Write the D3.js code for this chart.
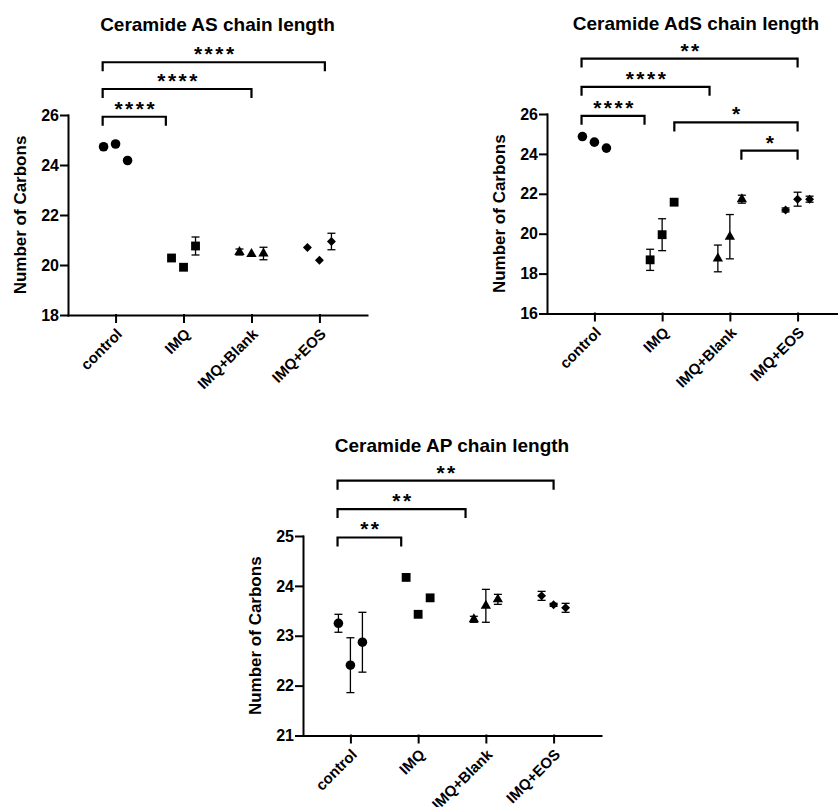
<!DOCTYPE html>
<html>
<head>
<meta charset="utf-8">
<script src="https://cdn.jsdelivr.net/npm/d3@7"></script>
<style>
  body { margin: 0; background: #fff; }
  text { font-family: "Liberation Sans", Arial, sans-serif; font-weight: bold; fill: #000; }
</style>
</head>
<body>
<script>
// Group names on the x axis
const categories = ["control", "IMQ", "IMQ+Blank", "IMQ+EOS"];
const shapes = ["circle", "square", "triangle", "diamond"];

// Ceramide AS: three sample means per group and their SD
const asMeans = [[24.73, 24.84, 24.18], [20.28, 19.91, 20.76], [20.52, 20.44, 20.46], [20.70, 20.19, 20.94]];
const asErr   = [[0, 0, 0], [0, 0, 0.36], [0.12, 0, 0.25], [0, 0, 0.33]];
const asTicks = [18, 20, 22, 24, 26];
// brackets: [from, to] in category units, level in data units, label
const asSig = [[-0.19, 0.74, 25.93, "****"], [-0.19, 2.0, 27.04, "****"], [-0.19, 3.08, 28.11, "****"]];

// Ceramide AdS
const adsMeans = [[24.87, 24.59, 24.29], [18.69, 19.95, 21.58], [18.76, 19.85, 21.73], [21.19, 21.73, 21.73]];
const adsErr   = [[0, 0, 0], [0.53, 0.80, 0], [0.67, 1.11, 0.2], [0.1, 0.35, 0.15]];
const adsTicks = [16, 18, 20, 22, 24, 26];
const adsSig = [[-0.19, 0.74, 25.91, "****"], [-0.19, 1.70, 27.36, "****"], [-0.19, 3.0, 28.78, "**"],
                [1.18, 3.0, 25.58, "*"], [2.17, 3.0, 24.16, "*"]];

// Ceramide AP
const apMeans = [[23.25, 22.41, 22.87], [24.17, 23.43, 23.76], [23.33, 23.60, 23.73], [23.80, 23.62, 23.56]];
const apErr   = [[0.18, 0.55, 0.60], [0, 0, 0], [0.06, 0.33, 0.1], [0.09, 0.03, 0.09]];
const apTicks = [21, 22, 23, 24, 25];
const apSig = [[-0.19, 0.75, 24.97, "**"], [-0.19, 1.70, 25.54, "**"], [-0.19, 3.0, 26.11, "**"]];

const svg = d3.select("body").append("svg")
    .attr("width", 838)
    .attr("height", 807);

const symbolFor = {
    circle: d3.symbol().type(d3.symbolCircle).size(72),
    square: d3.symbol().type(d3.symbolSquare).size(78),
    triangle: d3.symbol().type(d3.symbolTriangle).size(46),
    diamond: d3.symbol().type(d3.symbolSquare).size(40)
};

function drawPanel(p) {
    const g = svg.append("g");

    const x = d3.scalePoint()
        .domain(categories)
        .range([p.left, p.right])
        .padding(0.7);
    const step = x.step();
    const xc = u => x(categories[0]) + u * step;
    const jitter = d3.scalePoint().domain([0, 1, 2]).range([-12, 12]);

    const y = d3.scaleLinear()
        .domain(d3.extent(p.ticks))
        .range([p.bottom, p.top]);

    // Axes
    const yAxis = g.append("g")
        .attr("transform", `translate(${p.left},0)`)
        .call(d3.axisLeft(y).tickValues(p.ticks).tickFormat(d3.format("d"))
            .tickSize(7).tickSizeOuter(0).tickPadding(2));
    yAxis.selectAll("text").style("font-size", "16px");

    const xAxis = g.append("g")
        .attr("transform", `translate(0,${p.bottom})`)
        .call(d3.axisBottom(x).tickSize(7).tickSizeOuter(0));
    xAxis.selectAll("text")
        .style("font-size", "15px")
        .attr("x", 0).attr("y", 0).attr("dy", 0)
        .attr("text-anchor", "end")
        .attr("transform", "translate(7,20) rotate(-45)");

    g.selectAll(".domain, .tick line")
        .attr("stroke", "#000")
        .attr("stroke-width", 2)
        .attr("stroke-linecap", "square");

    // Title and y label
    g.append("text")
        .attr("x", (p.left + p.right) / 2)
        .attr("y", p.top - p.titleGap)
        .attr("text-anchor", "middle")
        .style("font-size", "19px")
        .text(p.title);

    g.append("text")
        .attr("transform", `translate(${p.left - 48},${(p.top + p.bottom) / 2}) rotate(-90)`)
        .attr("text-anchor", "middle")
        .attr("dy", "0.35em")
        .style("font-size", "17px")
        .text("Number of Carbons");

    // Points with error bars
    const points = [];
    p.means.forEach((vals, i) => vals.forEach((v, j) => {
        points.push({cat: categories[i], shape: shapes[i], j: j, v: v, e: p.err[i][j]});
    }));
    const px = d => x(d.cat) + jitter(d.j);

    const bars = g.selectAll(".err")
        .data(points.filter(d => d.e > 0))
        .enter().append("g")
        .attr("stroke", "#000")
        .attr("stroke-width", 1.3);
    bars.append("line")
        .attr("x1", px).attr("x2", px)
        .attr("y1", d => y(d.v - d.e)).attr("y2", d => y(d.v + d.e));
    bars.append("line")
        .attr("x1", d => px(d) - 4).attr("x2", d => px(d) + 4)
        .attr("y1", d => y(d.v + d.e)).attr("y2", d => y(d.v + d.e));
    bars.append("line")
        .attr("x1", d => px(d) - 4).attr("x2", d => px(d) + 4)
        .attr("y1", d => y(d.v - d.e)).attr("y2", d => y(d.v - d.e));

    g.selectAll(".pt")
        .data(points)
        .enter().append("path")
        .attr("d", d => symbolFor[d.shape]())
        .attr("transform", d => `translate(${px(d)},${y(d.v)})` + (d.shape === "diamond" ? " rotate(45)" : ""))
        .attr("fill", "#000");

    // Significance brackets
    const sig = g.selectAll(".sig")
        .data(p.sig)
        .enter().append("g");
    sig.append("path")
        .attr("d", d => {
            const yy = y(d[2]);
            return `M${xc(d[0])},${yy + 9}V${yy}H${xc(d[1])}V${yy + 9}`;
        })
        .attr("fill", "none")
        .attr("stroke", "#000")
        .attr("stroke-width", 2.2);
    sig.append("text")
        .attr("x", d => (xc(d[0]) + xc(d[1])) / 2 + 1.5)
        .attr("y", d => y(d[2]) - 1)
        .attr("text-anchor", "middle")
        .style("font-size", "21px")
        .style("letter-spacing", "2.5px")
        .text(d => d[3]);
}

drawPanel({title: "Ceramide AS chain length", means: asMeans, err: asErr, ticks: asTicks, sig: asSig,
           left: 68, right: 367, top: 115, bottom: 315, titleGap: 84});
drawPanel({title: "Ceramide AdS chain length", means: adsMeans, err: adsErr, ticks: adsTicks, sig: adsSig,
           left: 547, right: 845, top: 114, bottom: 313.5, titleGap: 84});
drawPanel({title: "Ceramide AP chain length", means: apMeans, err: apErr, ticks: apTicks, sig: apSig,
           left: 303, right: 601, top: 536, bottom: 735.5, titleGap: 84});
</script>
</body>
</html>
